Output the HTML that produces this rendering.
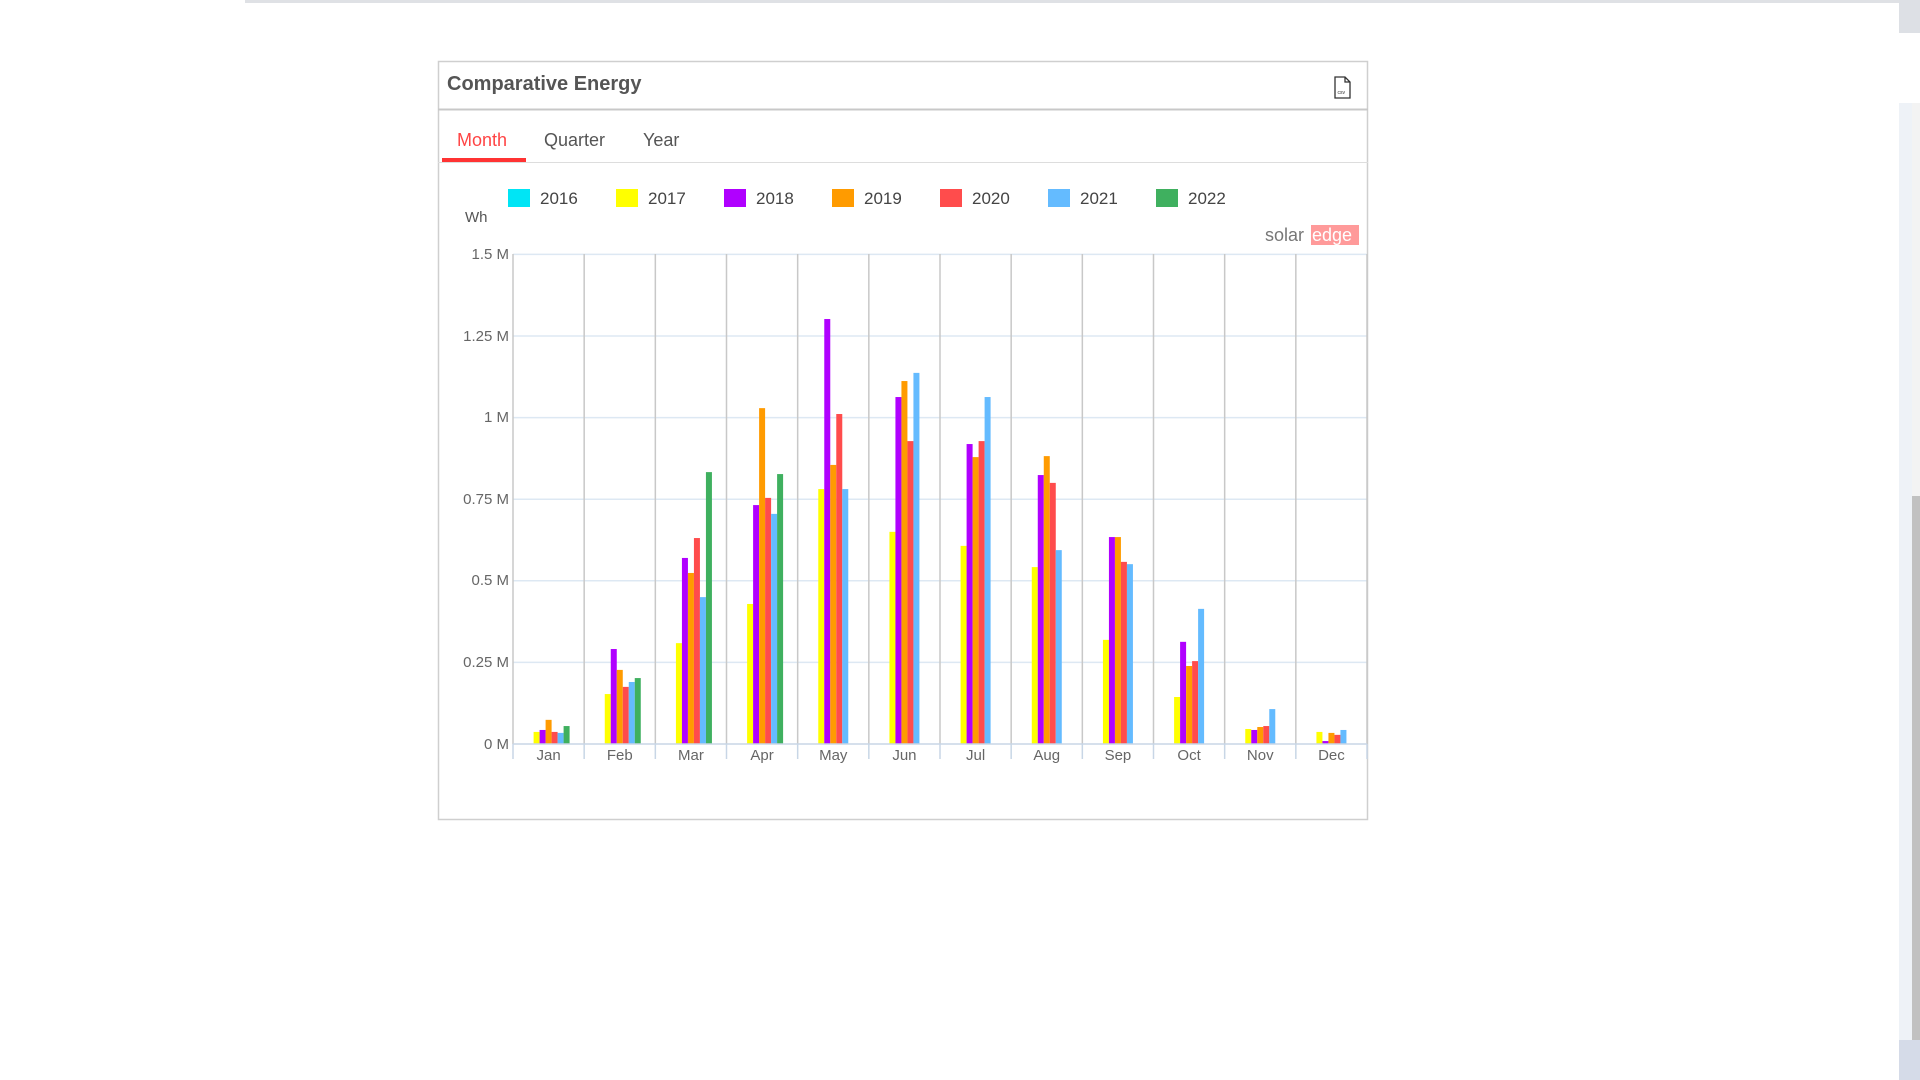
<!DOCTYPE html>
<html><head><meta charset="utf-8"><style>
html,body{margin:0;padding:0;width:1920px;height:1080px;overflow:hidden;background:#fff;font-family:"Liberation Sans",sans-serif;}
.abs{position:absolute;}
</style></head><body>
<div class="abs" style="left:245px;top:0;width:1655px;height:3px;background:#dfe1e5"></div>
<div class="abs" style="left:1899px;top:0;width:21px;height:33px;background:#dde0e5"></div>
<div class="abs" style="left:1899px;top:103px;width:13px;height:977px;background:#eef2f7"></div>
<div class="abs" style="left:1912px;top:103px;width:8px;height:393px;background:#f3f3f3"></div>
<div class="abs" style="left:1912px;top:496px;width:8px;height:544px;background:#c1c1c1"></div>
<div class="abs" style="left:1899px;top:1040px;width:21px;height:40px;background:#d5dbe8"></div>

<svg class="abs" style="left:0;top:0" width="1920" height="1080" xmlns="http://www.w3.org/2000/svg" font-family="Liberation Sans, sans-serif">
<rect x="438.5" y="61.5" width="929" height="758" fill="#fff" stroke="#cfcfcf" stroke-width="1.5"/>
<line x1="438" y1="109.5" x2="1368" y2="109.5" stroke="#c8c8c8" stroke-width="2"/>
<text x="447" y="90" font-size="20" font-weight="bold" fill="#555">Comparative Energy</text>
<g fill="none" stroke="#333" stroke-width="1.3">
<path d="M1335 77 h10 l5 5 v16 h-15 z M1345 77 v5 h5"/>
</g>
<text x="1337.5" y="94" font-size="5" fill="#333">csv</text>
<text x="457" y="146" font-size="18" fill="#f44">Month</text>
<text x="544" y="146" font-size="18" fill="#555">Quarter</text>
<text x="643" y="146" font-size="18" fill="#555">Year</text>
<rect x="442" y="158" width="84" height="4" fill="#f33"/>
<line x1="438" y1="162.5" x2="1368" y2="162.5" stroke="#ddd" stroke-width="1"/>
<g font-size="17" fill="#444">
<rect x="508" y="189" width="22" height="18" fill="#00e5f5"/><text x="540" y="204">2016</text>
<rect x="616" y="189" width="22" height="18" fill="#ffff00"/><text x="648" y="204">2017</text>
<rect x="724" y="189" width="22" height="18" fill="#b000ff"/><text x="756" y="204">2018</text>
<rect x="832" y="189" width="22" height="18" fill="#ff9b00"/><text x="864" y="204">2019</text>
<rect x="940" y="189" width="22" height="18" fill="#ff4c4c"/><text x="972" y="204">2020</text>
<rect x="1048" y="189" width="22" height="18" fill="#64bbff"/><text x="1080" y="204">2021</text>
<rect x="1156" y="189" width="22" height="18" fill="#3fb05f"/><text x="1188" y="204">2022</text>
</g>
<text x="465" y="222" font-size="15" fill="#555">Wh</text>
<text x="1265" y="241" font-size="18" fill="#777">solar</text>
<rect x="1311" y="225" width="48" height="20" fill="#ff9a9a"/>
<text x="1312" y="241" font-size="18" fill="#fff">edge</text>
<g stroke="#dde8f3" stroke-width="1.5">
<line x1="513" y1="254.4" x2="1367" y2="254.4"/>
<line x1="513" y1="336" x2="1367" y2="336"/>
<line x1="513" y1="417.6" x2="1367" y2="417.6"/>
<line x1="513" y1="499.2" x2="1367" y2="499.2"/>
<line x1="513" y1="580.8" x2="1367" y2="580.8"/>
<line x1="513" y1="662.4" x2="1367" y2="662.4"/>
</g>
<g font-size="15" fill="#666" text-anchor="end">
<text x="509" y="259">1.5 M</text>
<text x="509" y="341">1.25 M</text>
<text x="509" y="422">1 M</text>
<text x="509" y="504">0.75 M</text>
<text x="509" y="585">0.5 M</text>
<text x="509" y="667">0.25 M</text>
<text x="509" y="749">0 M</text>
</g>
<g id="grid" stroke="#c8c8c8" stroke-width="1.5"></g>
<g id="bars"></g>
<line x1="513" y1="744" x2="1367" y2="744" stroke="#c8d6e6" stroke-width="1.5"/>
<g id="ticks" stroke="#c8d6e6" stroke-width="1.5"></g>
<g id="labels" font-size="15" fill="#666" text-anchor="middle"></g>
</svg>
<script>
var ns="http://www.w3.org/2000/svg";
var data=[
[null,.037,.043,.074,.037,.034,.055],
[null,.153,.291,.227,.175,.19,.202],
[null,.309,.57,.524,.631,.45,.833],
[null,.429,.732,1.029,.754,.705,.827],
[null,.781,1.302,.855,1.011,.781,null],
[null,.65,1.063,1.112,.928,1.137,null],
[null,.607,.919,.879,.928,1.063,null],
[null,.542,.824,.882,.8,.594,null],
[null,.319,.634,.634,.558,.551,null],
[null,.144,.313,.239,.254,.414,null],
[null,.046,.043,.052,.055,.107,null],
[null,.037,.009,.034,.028,.043,null]];
var cols=["#00e5f5","#ffff00","#b000ff","#ff9b00","#ff4c4c","#64bbff","#3fb05f"];
var mon=["Jan","Feb","Mar","Apr","May","Jun","Jul","Aug","Sep","Oct","Nov","Dec"];
var x0=513,w=854/12,base=744,k=408/1.25;
var g=document.getElementById("grid"),b=document.getElementById("bars"),t=document.getElementById("ticks"),l=document.getElementById("labels");
function el(tag,a,p){var e=document.createElementNS(ns,tag);for(var q in a)e.setAttribute(q,a[q]);p.appendChild(e);return e;}
for(var i=0;i<=12;i++){var x=x0+i*w;el("line",{x1:x,y1:254,x2:x,y2:744},g);el("line",{x1:x,y1:744,x2:x,y2:759},t);}
for(var i=0;i<12;i++){
 var s=x0+i*w+14.6;
 for(var j=0;j<7;j++){var v=data[i][j];if(v==null)continue;var h=v*k;el("rect",{x:s+j*6,y:base-h,width:6,height:h,fill:cols[j]},b);}
 var tx=el("text",{x:x0+i*w+w/2,y:760},l);tx.textContent=mon[i];
}
</script>
</body></html>
